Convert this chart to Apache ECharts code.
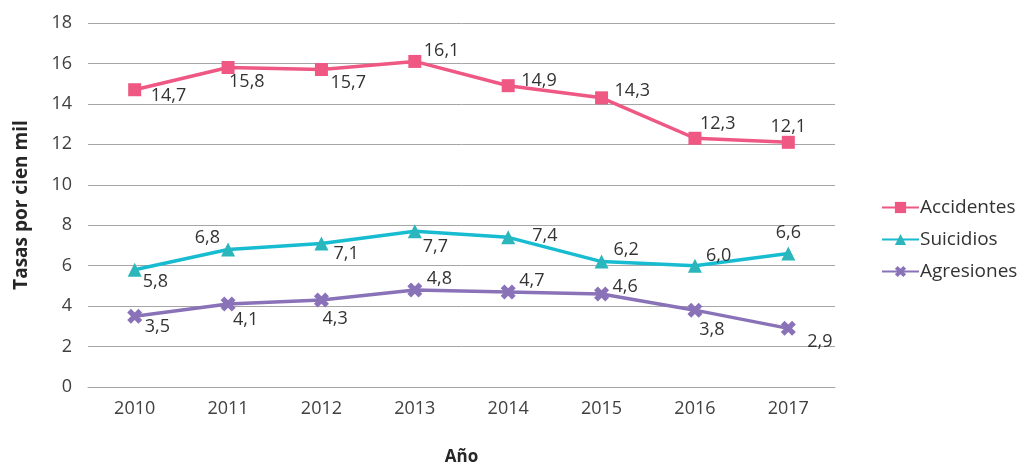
<!DOCTYPE html>
<html>
<head>
<meta charset="utf-8">
<script src="https://cdn.jsdelivr.net/npm/echarts@6/dist/echarts.min.js"></script>
<style>html,body{margin:0;padding:0;background:#fff;}#c{width:1023px;height:465px;}</style>
</head>
<body>
<div id="c"></div>
<script>
const years = ['2010','2011','2012','2013','2014','2015','2016','2017'];
const accidentes = [14.7, 15.8, 15.7, 16.1, 14.9, 14.3, 12.3, 12.1];
const suicidios = [5.8, 6.8, 7.1, 7.7, 7.4, 6.2, 6.0, 6.6];
const agresiones = [3.5, 4.1, 4.3, 4.8, 4.7, 4.6, 3.8, 2.9];
const yTicks = [0, 2, 4, 6, 8, 10, 12, 14, 16, 18];

// label placement (align, dx, dy) per point, styling only
const accLab = [['left',16,6],['left',1,14],['left',9,13],['left',9,-11],['left',13,-5],['left',13,-7],['left',5,-14],['center',0,-15]];
const suiLab = [['left',8,12],['right',-8,-12],['left',12,10],['left',8,16],['left',24,-1],['left',12,-12],['left',11,-10],['center',0,-21]];
const agrLab = [['left',10,11],['left',5,16],['left',1,19],['left',12,-11],['left',11,-11],['left',11,-7],['center',17,20],['left',19,14]];

const FONT = '"Open Sans", "Noto Sans", sans-serif';
const fmt = v => v.toFixed(1).replace('.', ',');
function mkData(vals, labs) {
  return vals.map((v, i) => ({
    value: v,
    label: { align: labs[i][0], offset: [labs[i][1], labs[i][2]] }
  }));
}
const xPath = 'path://M2.5,0 L5,2.5 L7.5,0 L10,2.5 L7.5,5 L10,7.5 L7.5,10 L5,7.5 L2.5,10 L0,7.5 L2.5,5 L0,2.5 Z';

const labelBase = {
  show: true, position: 'inside', verticalAlign: 'middle',
  color: '#333333', fontSize: 18, fontFamily: FONT,
  formatter: p => fmt(p.value)
};

const chart = echarts.init(document.getElementById('c'), null, { renderer: 'canvas' });
chart.setOption({
  animation: false,
  backgroundColor: '#ffffff',
  grid: { left: 88, right: 188, top: 23, bottom: 78, outerBoundsMode: 'none', containLabel: false },
  legend: {
    orient: 'vertical', left: 876, top: 193,
    itemWidth: 37, itemHeight: 14, itemGap: 13,
    textStyle: { fontSize: 19, color: '#333333', fontFamily: FONT, padding: [0,0,0,-4] },
    data: ['Accidentes', 'Suicidios', 'Agresiones']
  },
  xAxis: {
    type: 'category', data: years, boundaryGap: true,
    name: 'Año', nameLocation: 'middle', nameGap: 62,
    nameTextStyle: { fontSize: 17, fontWeight: 'bold', color: '#262626', fontFamily: FONT },
    axisLine: { show: true, lineStyle: { color: '#a6a6a6', width: 1 } },
    axisTick: { show: false },
    axisLabel: { fontSize: 18, color: '#404040', fontFamily: FONT, margin: 13 }
  },
  yAxis: {
    type: 'value', min: yTicks[0], max: yTicks[yTicks.length - 1], interval: 2,
    name: 'Tasas por cien mil', nameLocation: 'middle', nameGap: 57, nameRotate: 90,
    nameTextStyle: { fontSize: 19, fontWeight: 'bold', color: '#262626', fontFamily: FONT },
    axisLine: { show: false }, axisTick: { show: false },
    axisLabel: { fontSize: 18, color: '#404040', fontFamily: FONT, margin: 16 },
    splitLine: { lineStyle: { color: '#a6a6a6', width: 1 } }
  },
  series: [
    {
      name: 'Accidentes', type: 'line', data: mkData(accidentes, accLab),
      symbol: 'rect', symbolSize: 13, color: '#EE5882',
      lineStyle: { width: 3.5, color: '#EE5882' }, itemStyle: { color: '#EE5882' },
      label: labelBase, z: 3
    },
    {
      name: 'Suicidios', type: 'line', data: mkData(suicidios, suiLab),
      symbol: 'triangle', symbolSize: 14, color: '#17BCD1',
      lineStyle: { width: 3.5, color: '#17BCD1' }, itemStyle: { color: '#2AB6BA' },
      label: labelBase, z: 3
    },
    {
      name: 'Agresiones', type: 'line', data: mkData(agresiones, agrLab),
      symbol: xPath, symbolSize: 15, color: '#8A72B9',
      lineStyle: { width: 3.5, color: '#8A72B9' }, itemStyle: { color: '#8A72B9' },
      label: labelBase, z: 3
    }
  ]
});
</script>
</body>
</html>
